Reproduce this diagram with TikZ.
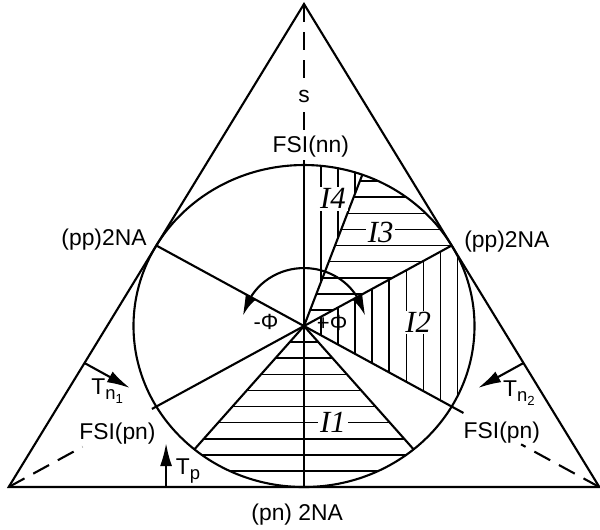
\documentclass[tikz,border=0pt]{standalone}
\usepackage{fontspec}
\setmainfont{Liberation Sans}
\newfontfamily\regionfont{Liberation Serif}
\usetikzlibrary{arrows.meta,bending}

\newcommand{\subsz}[2]{#1\raisebox{-0.45ex}{\fontsize{10.5}{12}\selectfont #2}}

\begin{document}
\begin{tikzpicture}[
    scale=3.22, xscale=1.059,
    edge/.style={line width=1.2pt},
    hatch/.style={line width=0.9pt},
    dashline/.style={line width=1.2pt, dash pattern=on 0.36cm off 0.2cm},
    lbl/.style={font=\fontsize{13}{15}\selectfont, inner sep=1.5pt},
    phil/.style={font=\fontsize{12.5}{14}\selectfont, inner sep=1pt},
    region/.style={font=\regionfont\itshape\fontsize{17.5}{19}\selectfont, fill=white, inner sep=1pt},
    tarrow/.style={line width=1.2pt, -{Latex[length=4.6mm, width=2.4mm]}},
    phiarrow/.style={line width=1.2pt, {Latex[length=4mm, width=2.2mm, bend]}-{Latex[length=4mm, width=2.2mm, bend]}},
]
\useasboundingbox (-1.783,-1.261) rectangle (1.736,2.025);

% Corners and tangent points
\coordinate (top) at (0,2);
\coordinate (bl) at (210:2);
\coordinate (br) at (330:2);
\coordinate (O) at (0,0);
\coordinate (ppL) at (150:1);
\coordinate (ppR) at (30:1);
\coordinate (pnB) at (0,-1);

% Hatching
% I1
\begin{scope}
\clip (O) -- (230:1) arc[start angle=230, end angle=310, radius=1] -- cycle;
\foreach \k in {1,...,9} \draw[hatch] (-1,-\k/10) -- (1,-\k/10);
\end{scope}
% I2
\begin{scope}
\clip (O) -- (-30:1) arc[start angle=-30, end angle=30, radius=1] -- cycle;
\foreach \k in {1,...,9} \draw[hatch] (\k/10,-1) -- (\k/10,1);
\end{scope}
% I3
\begin{scope}
\clip (O) -- (30:1) arc[start angle=30, end angle=70, radius=1] -- cycle;
\foreach \k in {1,...,9} \draw[hatch] (0,\k/10) -- (1,\k/10);
\end{scope}
% I4
\begin{scope}
\clip (O) -- (70:1) arc[start angle=70, end angle=90, radius=1] -- cycle;
\foreach \k in {1,...,3} \draw[hatch] (\k/10,0) -- (\k/10,1);
\end{scope}

% Triangle and circle
\draw[edge] (top) -- (bl) -- (br) -- cycle;
\draw[edge] (O) circle[radius=1];

% Labels
\node[lbl, inner sep=5pt] (s) at (0,1.424) {s};
\node[lbl] (fsinn) at (0.04,1.115) {FSI(nn)};
\node[lbl] (ppLlbl) at (-1.173,0.534) {(pp)2NA};
\node[lbl] (ppRlbl) at (1.19,0.522) {(pp)2NA};
\node[lbl] (pnlbl) at (-0.04,-1.17) {(pn) 2NA};
\node[lbl] (fsipnL) at (-1.094,-0.665) {FSI(pn)};
\node[lbl] (fsipnR) at (1.16,-0.661) {FSI(pn)};
\node[lbl] (tn1) at (-1.155,-0.405) {\subsz{T}{n\raisebox{-0.4ex}{\fontsize{7.5}{9}\selectfont 1}}};
\node[lbl] (tn2) at (1.26,-0.415) {\subsz{T}{n\raisebox{-0.4ex}{\fontsize{7.5}{9}\selectfont 2}}};
\node[lbl] (tp) at (-0.68,-0.9) {\subsz{T}{p}};

% Axes
\draw[dashline] (top) -- (s);
\draw[dashline] (s) -- (s |- fsinn.north);
\draw[edge] (s |- fsinn.south) -- (pnB);
\coordinate (pnLs) at (210:1.03);
\coordinate (pnLd) at (210:1.5);
\coordinate (pnRs) at (330:1.08);
\coordinate (pnRd) at (330:1.47);
\draw[edge] (ppR) -- (pnLs);
\draw[edge] (ppL) -- (pnRs);
\draw[dashline] (bl) -- (pnLd);
\draw[dashline] (br) -- (pnRd);

% Region borders
\coordinate (b70) at (70:1);
\coordinate (b230) at (230:1);
\coordinate (b310) at (310:1);
\draw[edge] (O) -- (b70);
\draw[edge] (O) -- (b230);
\draw[edge] (O) -- (b310);

\node[region] (i1) at (0.17,-0.6) {I1};
\node[region] (i2) at (0.67,0.022) {I2};
\node[region] (i3) at (0.45,0.58) {I3};
\node[region] (i4) at (0.17,0.79) {I4};

% Rotation
\draw[phiarrow] (170:0.36) arc[start angle=170, end angle=10, radius=0.36];
\node[phil] (mphi) at (-0.223,0.027) {-Φ};
\node[phil] (pphi) at (0.165,0.022) {+Φ};

% Arrows at the sides
\coordinate (tn1s) at (-1.287,-0.23);
\coordinate (tn1e) at (-1.021,-0.385);
\coordinate (tn2s) at (1.287,-0.23);
\coordinate (tn2e) at (1.021,-0.385);
\coordinate (tps) at (-0.809,-1);
\coordinate (tpe) at (-0.809,-0.727);
\draw[tarrow] (tn1s) -- (tn1e);
\draw[tarrow] (tn2s) -- (tn2e);
\draw[tarrow] (tps) -- (tpe);
\end{tikzpicture}
\end{document}
